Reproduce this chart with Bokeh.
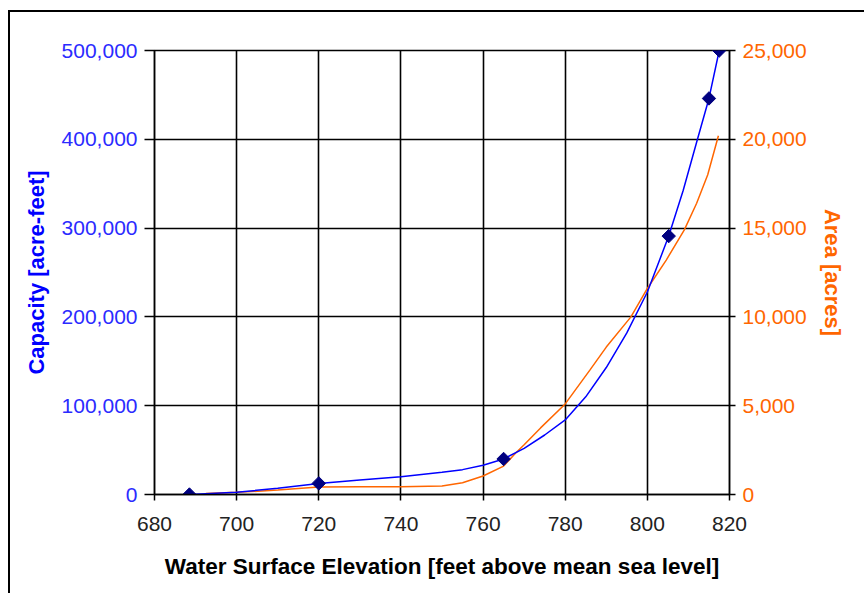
import math
from bokeh.plotting import figure
from bokeh.models import LinearAxis, Range1d, FixedTicker, NumeralTickFormatter
from bokeh.embed import file_html
from bokeh.resources import INLINE

# Capacity marker points (elevation ft, capacity acre-feet)
marker_elev = [688.5, 720, 765, 805.2, 815.0, 817.5]
marker_cap = [0, 12500, 40000, 291000, 446000, 500000]

# Capacity curve readings
cap_elev = [688.5, 695, 700, 710, 720, 730, 740, 750, 755, 760, 765, 770, 775, 780,
            785, 790, 795, 800, 805.2, 808.7, 812.2, 815.0, 817.5]
cap_vals = [0, 1500, 2500, 7000, 12500, 16300, 20000, 25000, 28000, 33000, 40000, 52000,
            67000, 84000, 110000, 143000, 182000, 228000, 291000, 342000, 400000, 446000, 500000]

# Area curve readings (elevation ft, area acres)
area_elev = [692.5, 700, 710, 720, 730, 740, 750, 755, 760, 765, 768, 770, 774, 780, 786,
             790, 796, 800, 804.6, 809, 812, 814.7, 817.3]
area_vals = [50, 120, 250, 420, 430, 430, 480, 660, 1040, 1600, 2350, 2800, 3750, 5100, 7000,
             8300, 10000, 11600, 13200, 14900, 16400, 18000, 20200]

x_ticks = [680, 700, 720, 740, 760, 780, 800, 820]
cap_ticks = [0, 100000, 200000, 300000, 400000, 500000]
area_ticks = [0, 5000, 10000, 15000, 20000, 25000]

BLUE_LINE = "#0000ff"
BLUE_TEXT = "#2b2bff"
ORANGE = "#ff6600"
NAVY = "#000080"
FONT = "Liberation Sans"

p = figure(width=856, height=583, output_backend="svg", toolbar_location=None,
           x_range=Range1d(680, 820), y_range=Range1d(0, 500000),
           min_border_left=144, min_border_right=137, min_border_top=38, min_border_bottom=101)
p.extra_y_ranges = {"area": Range1d(0, 25000)}

p.styles = {"border-left": "2px solid #000", "border-top": "2px solid #000",
            "margin-top": "10px", "margin-left": "8px"}

p.background_fill_color = "white"
p.border_fill_color = "white"
p.outline_line_color = "black"
p.outline_line_width = 1.5

for g in (p.xgrid[0], p.ygrid[0]):
    g.grid_line_color = "black"
    g.grid_line_width = 1.6
p.xgrid[0].ticker = FixedTicker(ticks=x_ticks)
p.ygrid[0].ticker = FixedTicker(ticks=cap_ticks)

# x axis
xa = p.xaxis[0]
xa.ticker = FixedTicker(ticks=x_ticks)
xa.axis_label = "Water Surface Elevation [feet above mean sea level]"
xa.axis_label_text_font = FONT
xa.axis_label_text_font_style = "bold"
xa.axis_label_text_font_size = "22.5px"
xa.axis_label_text_color = "black"
xa.axis_label_standoff = 20
xa.major_label_text_font = FONT
xa.major_label_text_font_size = "21px"
xa.major_label_text_color = "#222222"
xa.major_label_standoff = 16
xa.axis_line_color = "black"
xa.axis_line_width = 1.5
xa.major_tick_line_color = "black"
xa.major_tick_line_width = 1.5
xa.major_tick_out = 6
xa.major_tick_in = 0
xa.minor_tick_line_color = None

# left axis
ya = p.yaxis[0]
ya.ticker = FixedTicker(ticks=cap_ticks)
ya.formatter = NumeralTickFormatter(format="0,0")
ya.axis_label = "Capacity [acre-feet]"
ya.axis_label_text_font = FONT
ya.axis_label_text_font_style = "bold"
ya.axis_label_text_font_size = "22px"
ya.axis_label_text_color = "#0000ff"
ya.axis_label_standoff = 10
ya.major_label_text_font = FONT
ya.major_label_text_font_size = "21px"
ya.major_label_text_color = BLUE_TEXT
ya.major_label_standoff = 7
ya.axis_line_color = "black"
ya.axis_line_width = 1.5
ya.major_tick_line_color = "black"
ya.major_tick_line_width = 1.5
ya.major_tick_out = 10
ya.major_tick_in = 0
ya.minor_tick_line_color = None

# right axis
ra = LinearAxis(y_range_name="area", ticker=FixedTicker(ticks=area_ticks),
                formatter=NumeralTickFormatter(format="0,0"))
ra.axis_label = "Area [acres]"
ra.axis_label_text_font = FONT
ra.axis_label_text_font_style = "bold"
ra.axis_label_text_font_size = "22px"
ra.axis_label_text_color = ORANGE
ra.axis_label_standoff = 10
ra.major_label_text_font = FONT
ra.major_label_text_font_size = "21px"
ra.major_label_text_color = ORANGE
ra.major_label_standoff = 7
ra.axis_line_color = "black"
ra.axis_line_width = 1.5
ra.major_tick_line_color = "black"
ra.major_tick_line_width = 1.5
ra.major_tick_out = 6
ra.major_tick_in = 0
ra.minor_tick_line_color = None
p.add_layout(ra, "right")

# data
p.line(area_elev, area_vals, y_range_name="area", line_color=ORANGE, line_width=1.5)
p.line(cap_elev, cap_vals, line_color=BLUE_LINE, line_width=1.5)
p.scatter(marker_elev, marker_cap, marker="square", angle=math.pi / 4, size=9.5,
          fill_color=NAVY, line_color=NAVY)

open("out.html", "w").write(file_html(p, INLINE))
